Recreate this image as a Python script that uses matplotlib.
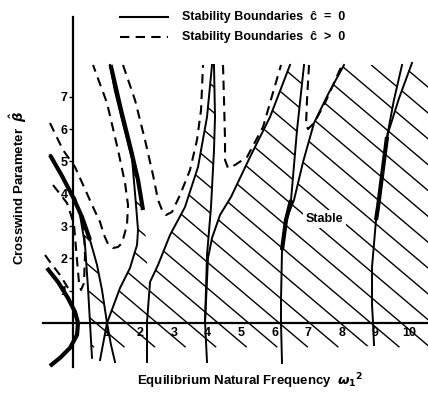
import numpy as np
import matplotlib
matplotlib.use("Agg")
import matplotlib.pyplot as plt
from matplotlib.patches import Polygon
from matplotlib.collections import LineCollection
from matplotlib.lines import Line2D

plt.rcParams['font.family'] = ['Liberation Sans', 'DejaVu Sans']
plt.rcParams['font.weight'] = 'bold'

# Stability boundaries, c = 0 (omega^2, beta)
s1 = np.array([(-0.685, 5.20), (-0.327, 4.55), (0.0, 3.90), (0.268, 3.28), (0.506, 2.57),
               (0.714, 1.80), (0.863, 1.02), (1.012, 0.0), (1.131, -0.68), (1.25, -1.21)])
s2 = np.array([(0.06, 3.87), (0.208, 3.34), (0.357, 2.42), (0.446, 1.08), (0.506, 0.0), (0.565, -1.08)])
s3 = np.array([(-0.774, 1.70), (-0.446, 1.27), (-0.149, 0.77), (0.06, 0.34), (0.149, 0.0),
               (0.119, -0.37), (-0.089, -0.77), (-0.387, -1.08), (-0.685, -1.33)])
a1 = np.array([(0.804, -1.146), (1.012, 0.0), (1.399, 1.084), (1.696, 1.703), (1.905, 2.415),
               (1.935, 2.879), (1.875, 3.653), (1.76, 5.05), (1.46, 6.285), (1.24, 7.214), (1.10, 7.988)])
b2 = np.array([(2.202, -1.207), (2.202, 0.031), (2.232, 1.269), (2.173, 2.57), (2.083, 3.498),
               (1.935, 4.427), (1.726, 5.356), (1.429, 6.594), (1.12, 7.988)])
s6 = np.array([(2.202, -1.207), (2.202, 0.031), (2.292, 1.269), (2.53, 1.796), (2.887, 2.724),
               (3.333, 3.591), (3.72, 4.83), (3.988, 6.378), (4.137, 7.988)])
s7 = np.array([(3.988, -1.207), (3.929, 0.031), (3.988, 2.105), (4.107, 3.591), (4.196, 5.356),
               (4.226, 6.378), (4.196, 7.988)])
s8 = np.array([(3.929, 0.031), (3.988, 1.331), (4.018, 2.012), (4.137, 2.632), (4.375, 3.344),
               (4.702, 3.901), (5.268, 5.139), (5.863, 6.378), (6.458, 7.988)])
s9 = np.array([(6.22, -1.238), (6.19, 0.0), (6.19, 0.712), (6.22, 2.26), (6.339, 3.189),
               (6.488, 3.808), (6.667, 5.975), (6.875, 7.988)])
s10 = np.array([(6.339, 3.189), (6.577, 3.808), (6.85, 5.0), (7.173, 6.192), (7.6, 7.1), (8.065, 7.988)])
s11 = np.array([(8.958, -0.681), (8.929, 0.0), (8.899, 0.557), (8.899, 1.734), (9.018, 3.189),
                (9.077, 3.591), (9.345, 5.759), (9.55, 6.9), (9.792, 7.988)])
s12 = np.array([(9.077, 3.591), (9.375, 5.88), (9.70, 6.95), (10.089, 8.05)])

# Stability boundaries, c > 0
du0 = np.array([(-0.595, 4.272), (-0.179, 3.715), (-0.089, 3.437), (0.03, 3.034), (0.119, 1.95),
                (0.179, 1.238), (0.238, 1.022), (0.327, 1.238), (0.357, 2.105), (0.327, 2.879), (0.268, 3.344)])
du1 = np.array([(-0.685, 6.19), (-0.298, 5.356), (0.06, 4.83), (0.595, 3.591), (0.804, 3.127),
                (0.923, 2.724), (1.042, 2.446), (1.19, 2.322), (1.339, 2.353), (1.458, 2.477),
                (1.607, 3.034), (1.637, 3.653), (1.548, 4.334), (1.339, 5.356), (1.012, 6.811), (0.595, 7.988)])
d5 = np.array([(-0.833, 2.105), (-0.685, 1.889), (-0.387, 1.486), (-0.149, 1.084)])
du2 = np.array([(1.488, 7.988), (1.845, 6.904), (2.143, 5.666), (2.381, 4.582), (2.53, 3.808),
                (2.649, 3.498), (2.768, 3.344), (2.946, 3.437), (3.185, 3.963), (3.482, 4.737),
                (3.69, 5.666), (3.81, 6.594), (3.869, 7.988)])
du4 = np.array([(4.464, 7.988), (4.494, 6.904), (4.524, 5.666), (4.524, 5.046), (4.613, 4.799),
                (4.821, 4.892), (5.179, 5.139), (5.655, 6.068), (6.19, 7.988)])
du6 = np.array([(7.024, 7.988), (6.964, 6.904), (6.935, 6.13), (6.994, 6.006), (7.173, 6.192),
                (7.5, 6.811), (8.006, 7.988)])

xticks = [1, 2, 3, 4, 5, 6, 7, 8, 9, 10]
yticks = [1, 2, 3, 4, 5, 6, 7]

fig = plt.figure(figsize=(4.28, 3.98), dpi=100)
ax = fig.add_axes([0, 0, 1, 1])
ax.set_xlim(-2.173, 10.565)
ax.set_ylim(-2.322, 10.0)

for side in ['top', 'right']:
    ax.spines[side].set_visible(False)
ax.spines['left'].set_position(('data', 0))
ax.spines['bottom'].set_position(('data', 0))
ax.spines['left'].set_bounds(-1.36, 9.47)
ax.spines['bottom'].set_bounds(-0.89, 10.57)
ax.spines['left'].set_linewidth(1.6)
ax.spines['bottom'].set_linewidth(1.6)
ax.set_xticks(xticks)
ax.set_yticks(yticks)
ax.tick_params(axis='x', length=0, pad=3, labelsize=9)
ax.tick_params(axis='y', length=3, width=1, pad=1, labelsize=9)
for lab in ax.get_xticklabels():
    lab.set_bbox(dict(facecolor='white', edgecolor='none', pad=1))
    lab.set_zorder(5)

k = 'black'
# hatched stable regions
regions = [
    np.vstack([s2, s1[::-1]]),
    np.vstack([a1, b2[::-1]]),
    np.vstack([s6, s7[::-1]]),
    np.vstack([s7[:1], s8, s9[::-1]]),
    np.vstack([s9[:4], s10, s11[::-1]]),
    np.vstack([s11[:6], s12, [(10.6, 8.05), (10.6, -1.3)]]),
]
slope = 0.88
ytop, ybot = 8.0, -0.75
segs = []
for c in np.arange(-1.0, 20.0, 0.8):
    segs.append([((c - ytop) / slope, ytop), ((c - ybot) / slope, ybot)])
for poly in regions:
    patch = Polygon(poly, closed=True, facecolor='none', edgecolor='none')
    ax.add_patch(patch)
    lc = LineCollection(segs, colors=k, linewidths=1.0)
    ax.add_collection(lc)
    lc.set_clip_path(patch)

for cur in [s1, s2, a1, s6, s7, s8, s9, s10, s11, s12]:
    ax.plot(cur[:, 0], cur[:, 1], color=k, lw=1.4, solid_joinstyle='round')
ax.plot(s3[:, 0], s3[:, 1], color=k, lw=3.0, solid_capstyle='butt')
ax.plot(s1[:5, 0], s1[:5, 1], color=k, lw=3.0, solid_capstyle='butt')
ax.plot(b2[4:, 0], b2[4:, 1], color=k, lw=3.0, solid_capstyle='butt')
ax.plot(s9[3:6, 0], s9[3:6, 1], color=k, lw=3.0, solid_capstyle='butt')
ax.plot(s11[4:7, 0], s11[4:7, 1], color=k, lw=3.0, solid_capstyle='butt')

for cur in [du0, du1, d5, du2, du4, du6]:
    ax.plot(cur[:, 0], cur[:, 1], color=k, lw=1.5, dashes=(4.5, 3))

ax.text(7.47, 3.22, 'Stable', fontsize=9, ha='center', va='center',
        bbox=dict(facecolor='white', edgecolor='none', pad=2))

# legend
fig.add_artist(Line2D([0.280, 0.393], [0.957, 0.957], color=k, lw=1.5))
fig.add_artist(Line2D([0.280, 0.393], [0.907, 0.907], color=k, lw=1.5, dashes=(4.5, 3)))
fig.text(0.425, 0.957, 'Stability Boundaries  ĉ  =  0', fontsize=9, va='center')
fig.text(0.425, 0.907, 'Stability Boundaries  ĉ  >  0', fontsize=9, va='center')

fig.text(0.042, 0.528, r'Crosswind Parameter  $\hat{\beta}$', rotation=90, fontsize=9.5,
         ha='center', va='center')
fig.text(0.584, 0.043, r'Equilibrium Natural Frequency  $\omega_1{}^2$', fontsize=9.5,
         ha='center', va='center')

fig.savefig('out.png', dpi=100)
